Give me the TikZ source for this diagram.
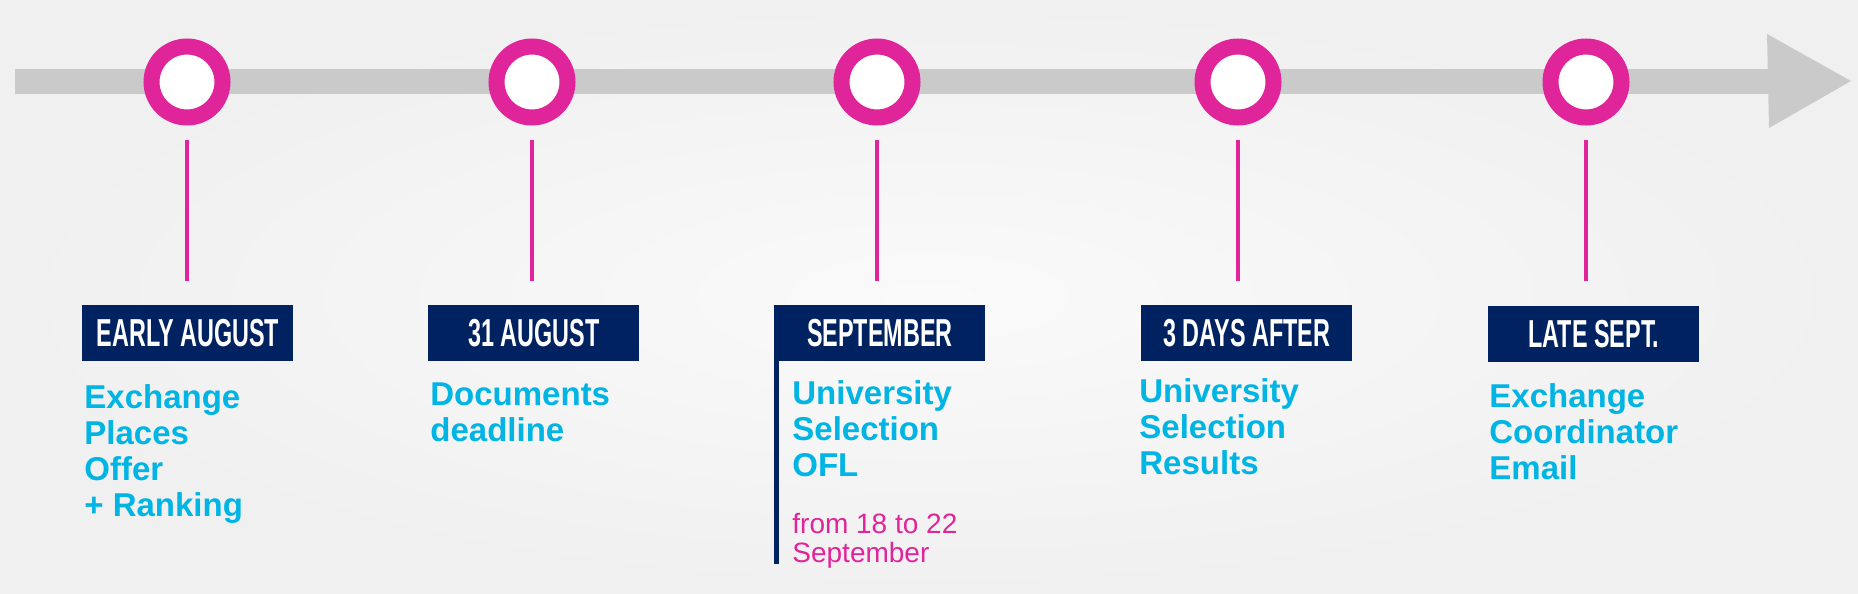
\documentclass[tikz,border=0pt]{standalone}
\usepackage{fontspec}
\setmainfont{Liberation Sans}
\newfontfamily\datefont[FakeStretch=0.6]{Liberation Sans Bold}
\usepackage{xcolor}
\usepackage{tikz}
\usetikzlibrary{positioning}
\definecolor{bargray}{RGB}{202,202,202}
\definecolor{ringpink}{RGB}{224,36,154}
\definecolor{datenavy}{RGB}{0,34,96}
\definecolor{stepcyan}{RGB}{0,180,228}
\definecolor{bgedge}{RGB}{241,240,241}
\definecolor{bgmid}{RGB}{250,250,250}

\tikzset{
  ring/.style={circle, draw=ringpink, line width=8pt, fill=white, minimum size=35.5pt, inner sep=0pt},
  stem/.style={draw=ringpink, line width=2.4pt},
  datebox/.style={anchor=north west, fill=datenavy, text=white, minimum width=105.5pt, minimum height=28pt, inner sep=0pt, font=\datefont\fontsize{19.5}{20}\selectfont},
  steptext/.style={anchor=north west, align=left, inner sep=0pt, text=stepcyan, font=\bfseries\fontsize{16.5}{18}\selectfont},
  notetext/.style={anchor=north west, align=left, inner sep=0pt, text=ringpink, font=\fontsize{14}{14.5}\selectfont}
}

\begin{document}
\begin{tikzpicture}[x=0.5pt, y=-0.5pt]
  \useasboundingbox (0,0) rectangle (1858,594);
  \shade[inner color=bgmid, outer color=bgedge] (0,0) rectangle (1858,594);

  % timeline
  \fill[bargray] (15,69) rectangle (1769,94);
  \fill[bargray] (1767,34) -- (1851,81) -- (1769,128) -- cycle;

  \node[ring] (c1) at (187,82) {};
  \node[ring] (c2) at (532,82) {};
  \node[ring] (c3) at (877,82) {};
  \node[ring] (c4) at (1238,82) {};
  \node[ring] (c5) at (1586,82) {};

  \node[datebox] (d1) at (82,305) {EARLY AUGUST};
  \node[datebox] (d2) at (428,305) {31 AUGUST};
  \node[datebox] (d3) at (774,305) {SEPTEMBER};
  \node[datebox] (d4) at (1141,305) {3 DAYS AFTER};
  \node[datebox] (d5) at (1488,306) {LATE SEPT.};

  \draw[stem, shorten <=7.25pt, shorten >=12pt] (c1.south) -- (c1.south |- d1.north);
  \draw[stem, shorten <=7.25pt, shorten >=12pt] (c2.south) -- (c2.south |- d2.north);
  \draw[stem, shorten <=7.25pt, shorten >=12pt] (c3.south) -- (c3.south |- d3.north);
  \draw[stem, shorten <=7.25pt, shorten >=12pt] (c4.south) -- (c4.south |- d4.north);
  \draw[stem, shorten <=7.25pt, shorten >=12.5pt] (c5.south) -- (c5.south |- d5.north);

  \coordinate (pole) at (776.5,564);
  \draw[datenavy, line width=2.5pt] (d3.north west -| pole) -- (pole);

  \node[steptext] (s1) at (84,384) {Exchange\\Places\\Offer\\+ Ranking};
  \node[steptext] (s2) at (430,382) {Documents\\deadline};
  \node[steptext] (s3) at (792,380) {University\\Selection\\OFL};
  \node[notetext] (n3) at (792,513) {from 18 to 22\\September};
  \node[steptext] (s4) at (1139,378) {University\\Selection\\Results};
  \node[steptext] (s5) at (1489,383) {Exchange\\Coordinator\\Email};
\end{tikzpicture}
\end{document}
